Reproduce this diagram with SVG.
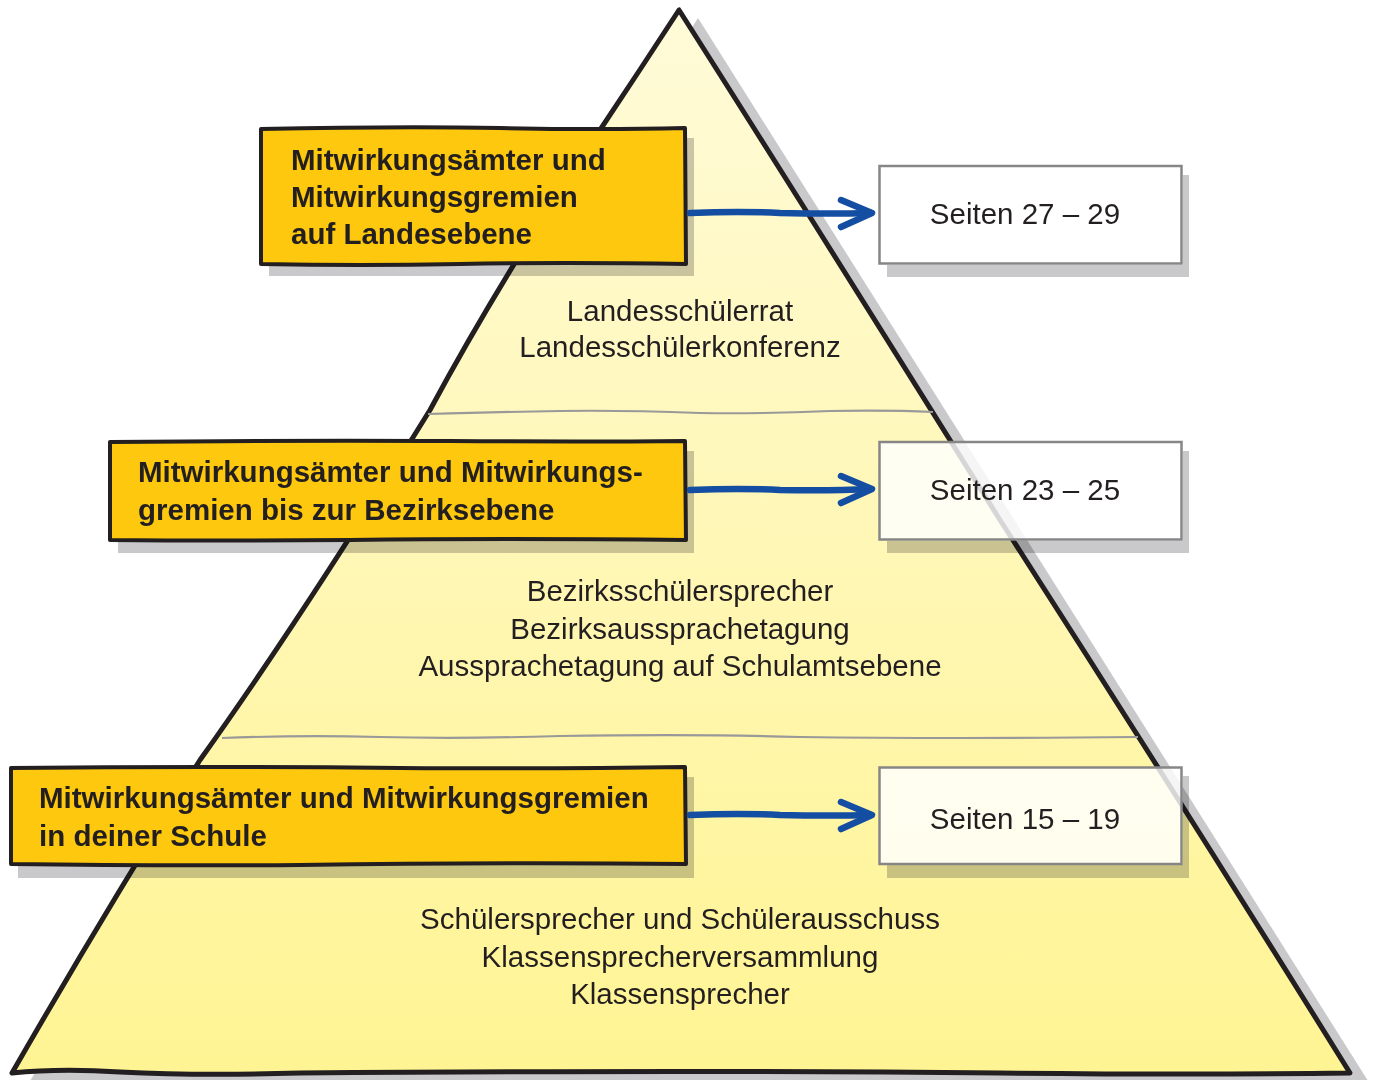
<svg xmlns="http://www.w3.org/2000/svg" width="1376" height="1080" viewBox="0 0 1376 1080">
<style>
.shadow{fill:#c9c9cb;mix-blend-mode:multiply}
.ybox{fill:#fdc80d;stroke:#231f20;stroke-width:4;stroke-linejoin:round}
.wbox{fill:#ffffff;fill-opacity:0.82;stroke:#868686;stroke-width:2.5}
.btxt{font-family:"Liberation Sans",Arial,sans-serif;font-weight:bold;font-size:29.5px;fill:#231f20}
.ptxt{font-family:"Liberation Sans",Arial,sans-serif;font-size:29.5px;fill:#231f20;text-anchor:middle}
.stxt{font-family:"Liberation Sans",Arial,sans-serif;font-size:29.5px;fill:#231f20;text-anchor:middle}
.div{fill:none;stroke:#999999;stroke-width:2.2}
.arr{fill:none;stroke:#144ea2;stroke-width:6.5;stroke-linecap:round;stroke-linejoin:round}
</style>
<defs>
<linearGradient id="pg" gradientUnits="userSpaceOnUse" x1="0" y1="10" x2="0" y2="1075">
<stop offset="0" stop-color="#fffbd8"/>
<stop offset="0.5" stop-color="#fff7b6"/>
<stop offset="1" stop-color="#fff493"/>
</linearGradient>
</defs>
<rect width="1376" height="1080" fill="#ffffff"/>
<g id="pyramid">
<path class="shadow" d="M698 18 L1370 1084 L28 1084 Z"/>
<path d="M679 10 Q640 70 600 130 Q500 280 430 410 Q300 620 200 760 Q100 920 12 1073 Q60 1068 120 1072 Q200 1076 300 1073 Q700 1070 1000 1073 Q1200 1075 1350 1073 Q1180 800 1000 520 Q800 200 679 10 Z" fill="url(#pg)" stroke="#231f20" stroke-width="5" stroke-linejoin="round"/>
<path class="div" d="M428 414 Q500 412 560 411 Q620 410 700 413 Q760 414 830 411 Q890 410 933 412"/>
<path class="div" d="M222 738 Q300 735 380 737 Q460 739 560 736 Q700 734 800 737 Q950 739 1138 737"/>
<text class="ptxt" x="680" y="321">Landesschülerrat</text>
<text class="ptxt" x="680" y="357">Landesschülerkonferenz</text>
<text class="ptxt" x="680" y="601">Bezirksschülersprecher</text>
<text class="ptxt" x="680" y="639">Bezirksaussprachetagung</text>
<text class="ptxt" x="680" y="676">Aussprachetagung auf Schulamtsebene</text>
<text class="ptxt" x="680" y="929">Schülersprecher und Schülerausschuss</text>
<text class="ptxt" x="680" y="967">Klassensprecherversammlung</text>
<text class="ptxt" x="680" y="1004">Klassensprecher</text>
</g>
<g id="level1">
<rect class="shadow" x="269" y="138" width="425" height="138"/>
<path class="ybox" d="M261 129 Q400 126 500 128 Q600 130 685 128 L686 264 Q560 262 460 264 Q360 266 261 264 Z"/>
<text class="btxt" x="291" y="170">Mitwirkungsämter und</text>
<text class="btxt" x="291" y="207">Mitwirkungsgremien</text>
<text class="btxt" x="291" y="244">auf Landesebene</text>
</g>
<g id="level2">
<rect class="shadow" x="118" y="451" width="576" height="102"/>
<path class="ybox" d="M110 442 Q300 440 450 441 Q580 442 685 441 L686 540 Q500 538 350 540 Q220 541 110 540 Z"/>
<text class="btxt" x="138" y="482">Mitwirkungsämter und Mitwirkungs-</text>
<text class="btxt" x="138" y="520">gremien bis zur Bezirksebene</text>
</g>
<g id="level3">
<rect class="shadow" x="18" y="777" width="676" height="101"/>
<path class="ybox" d="M11 768 Q200 766 400 768 Q560 769 685 767 L686 864 Q500 862 300 865 Q150 866 11 864 Z"/>
<text class="btxt" x="39" y="808">Mitwirkungsämter und Mitwirkungsgremien</text>
<text class="btxt" x="39" y="846">in deiner Schule</text>
</g>
<g id="pages1">
<path class="shadow" d="M1183 175 H1189 V277 H887 V265 H1183 Z"/>
<rect class="wbox" x="879.5" y="166" width="302" height="97.5"/>
<text class="stxt" x="1025" y="224">Seiten 27 – 29</text>
</g>
<g id="pages2">
<path class="shadow" d="M1183 451 H1189 V553 H887 V541 H1183 Z"/>
<rect class="wbox" x="879.5" y="442" width="302" height="97.5"/>
<text class="stxt" x="1025" y="500">Seiten 23 – 25</text>
</g>
<g id="pages3">
<path class="shadow" d="M1183 776 H1189 V878 H887 V865 H1183 Z"/>
<rect class="wbox" x="879.5" y="767.5" width="302" height="96.5"/>
<text class="stxt" x="1025" y="829">Seiten 15 – 19</text>
</g>
<g id="connectors">
<path class="arr" d="M690 213 Q740 211 780 213 Q830 214 871 213"/>
<path class="arr" d="M841 200 L872 213 L841 227"/>
<path class="arr" d="M690 490 Q740 488 780 490 Q830 491 871 489"/>
<path class="arr" d="M841 476 L872 489 L841 503"/>
<path class="arr" d="M690 815 Q740 813 780 815 Q830 816 871 815"/>
<path class="arr" d="M841 802 L872 815 L841 829"/>
</g>
</svg>
